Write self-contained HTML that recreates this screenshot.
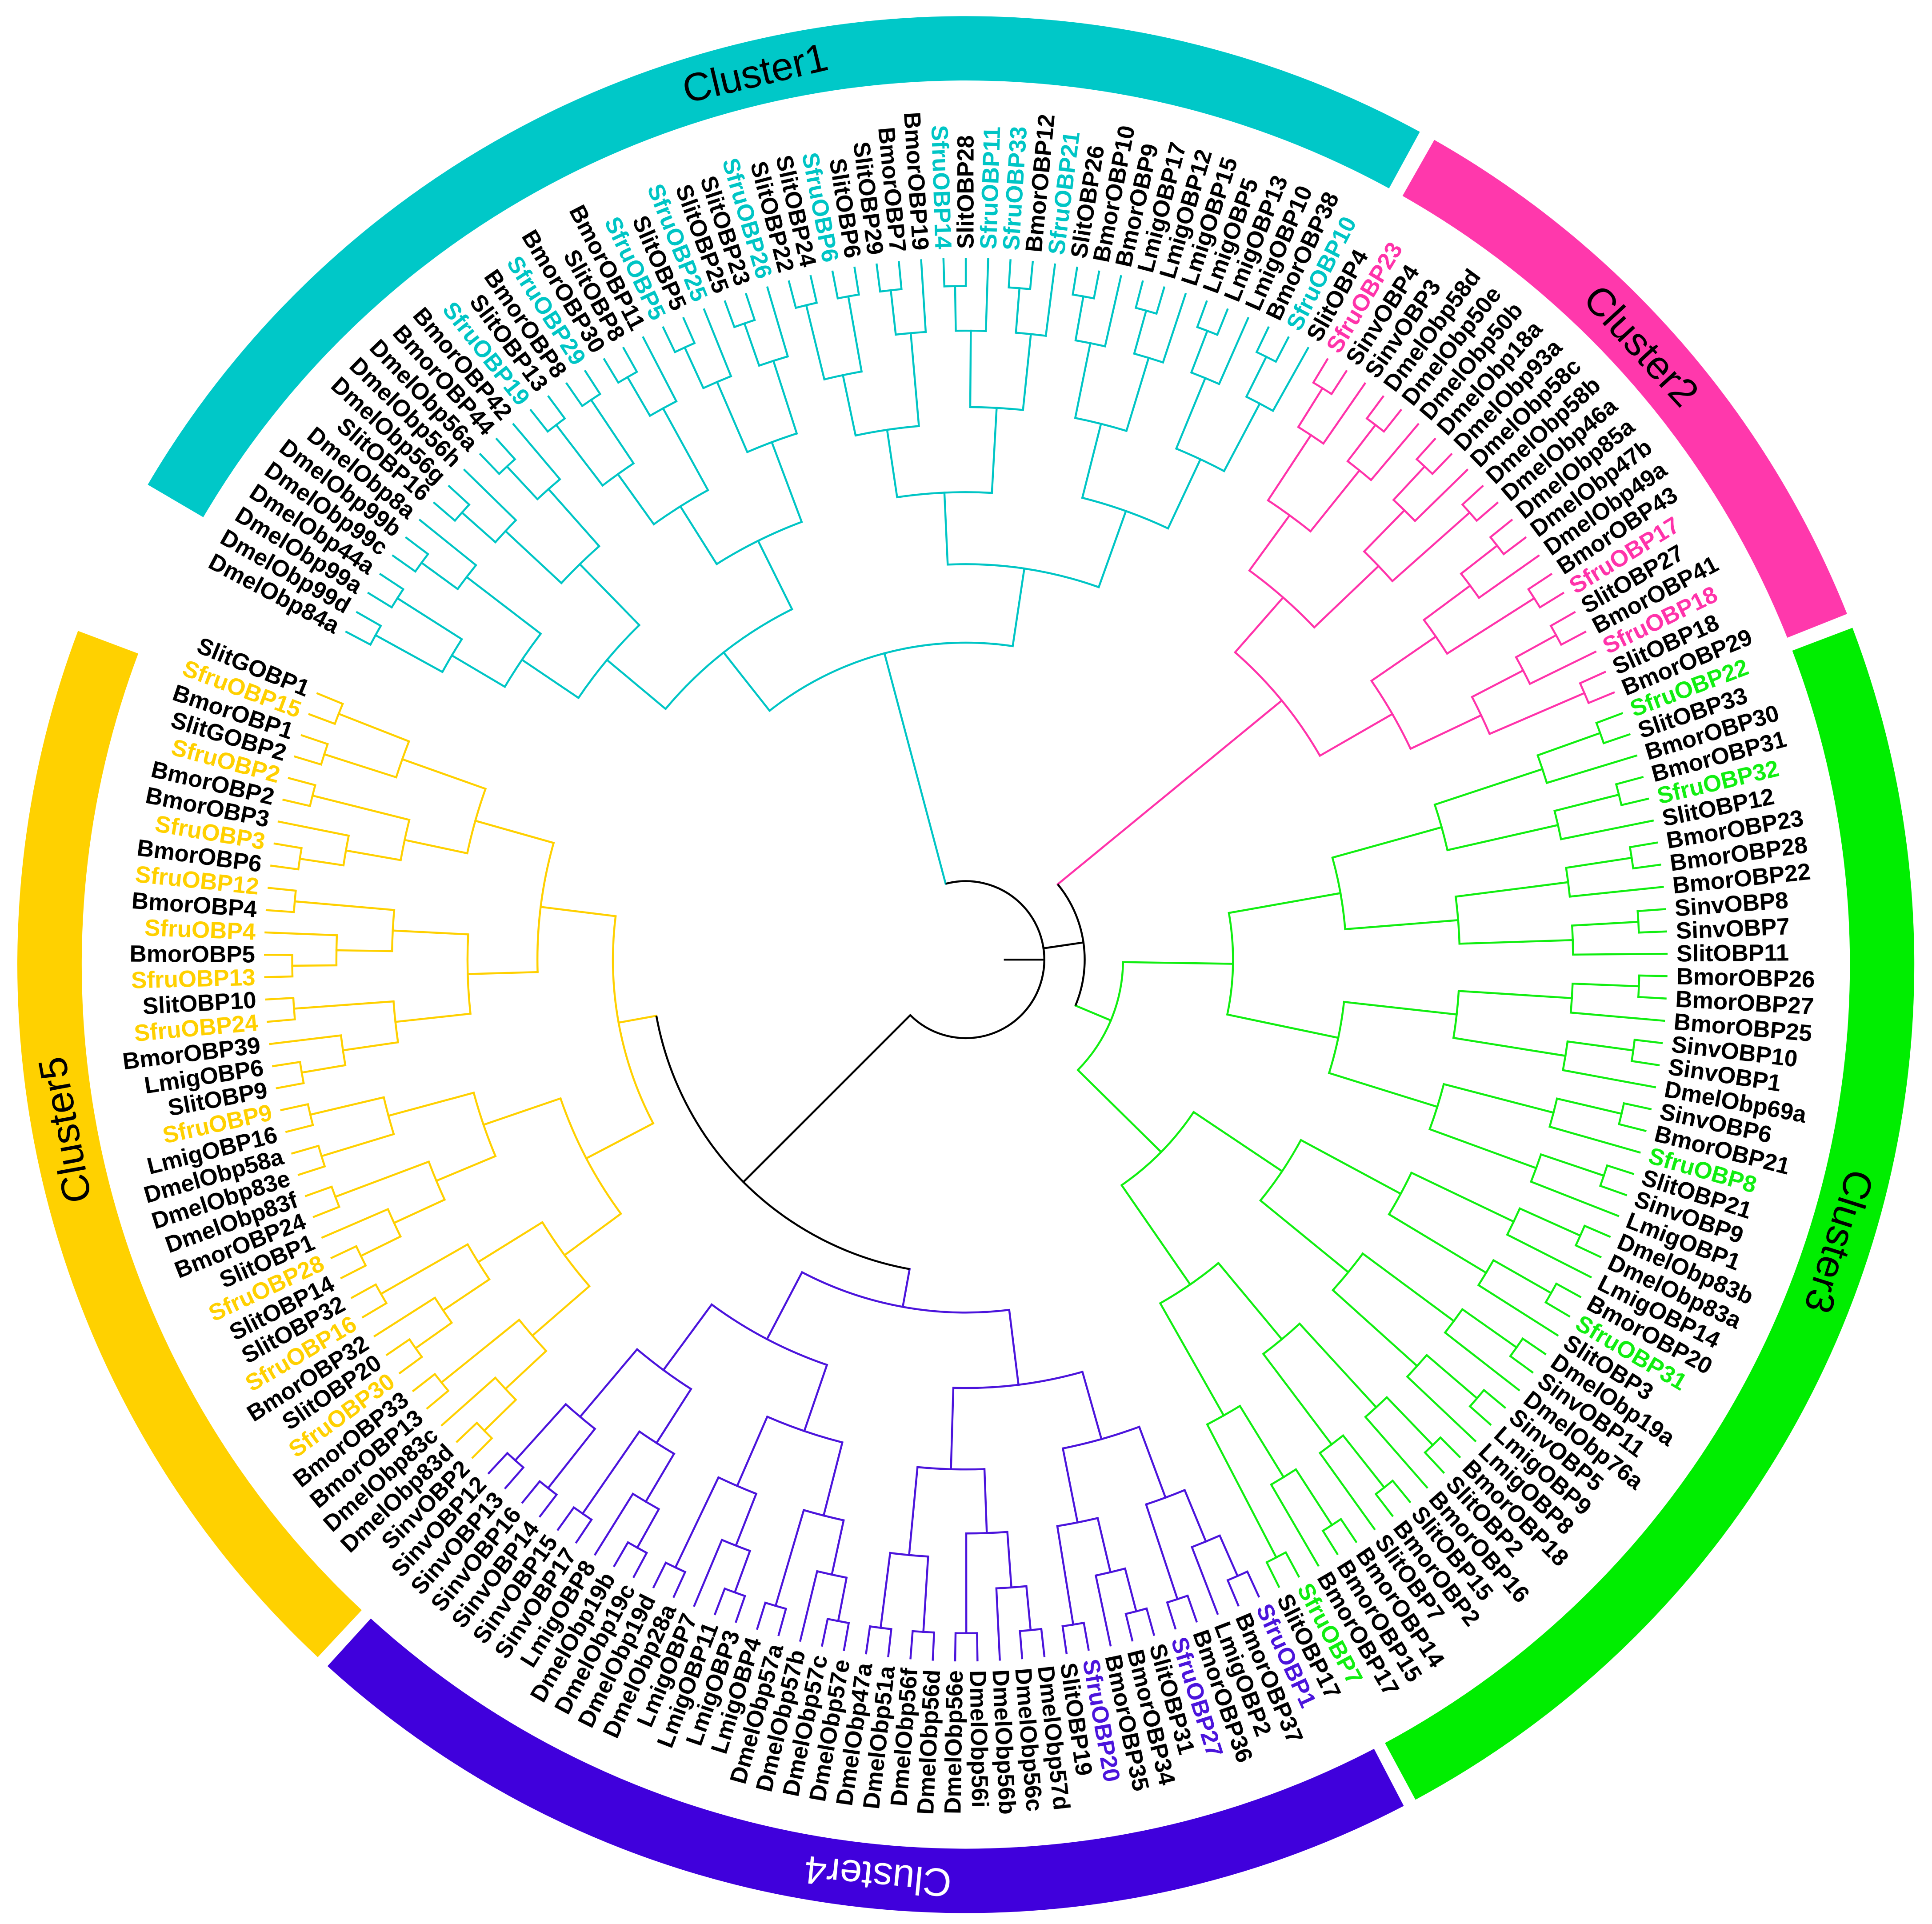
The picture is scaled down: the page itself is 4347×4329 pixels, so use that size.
<!DOCTYPE html>
<html><head><meta charset="utf-8">
<style>
html,body{margin:0;padding:0;background:#fff;}
svg{display:block;}
text{font-family:"Liberation Sans",Arial,sans-serif;}
</style></head>
<body>
<svg id="s" xmlns="http://www.w3.org/2000/svg" width="4347" height="4329" viewBox="0 0 1560.3 1553.8">
<rect x="0" y="0" width="1560.3" height="1553.8" fill="#fff"/>
<g id="ring"></g><g id="tree"></g><g id="labels"></g>
</svg>
<script>
const NS="http://www.w3.org/2000/svg";
const T=[780,775], R=[780,779];
function P(r,a,c){c=c||T;const t=a*Math.PI/180;return [c[0]+r*Math.cos(t),c[1]+r*Math.sin(t)];}
function el(tag,attrs,parent,txt){const e=document.createElementNS(NS,tag);for(const k in attrs)e.setAttribute(k,attrs[k]);if(txt!==undefined)e.textContent=txt;parent.appendChild(e);return e;}
const tree=document.getElementById('tree'),labs=document.getElementById('labels'),ring=document.getElementById('ring');
const SW=1.6;
function arcPath(r,a1,a2,c){if(a2<a1){const t=a1;a1=a2;a2=t;}const p1=P(r,a1,c),p2=P(r,a2,c);const large=(a2-a1)>180?1:0;return `M${p1[0].toFixed(2)},${p1[1].toFixed(2)} A${r},${r} 0 ${large} 1 ${p2[0].toFixed(2)},${p2[1].toFixed(2)}`;}
function arc(r,a1,a2,col){el('path',{d:arcPath(r,a1,a2),fill:'none',stroke:col,'stroke-width':SW},tree);}
function rad(r1,r2,a,col){const p1=P(r1,a),p2=P(r2,a);el('line',{x1:p1[0],y1:p1[1],x2:p2[0],y2:p2[1],stroke:col,'stroke-width':SW,'stroke-linecap':'square'},tree);}

const ringDefs=[
 {a1:210.4,a2:298.6,c:'#00C8C8',t:'Cluster1',ta:256.7,tc:'#000'},
 {a1:299.6,a2:338.3,c:'#FF38AC',t:'Cluster2',ta:317.5,tc:'#000'},
 {a1:339.2,a2:421.7,c:'#00EE00',t:'Cluster3',ta:377.6,tc:'#000'},
 {a1:422.5,a2:492.3,c:'#4000DC',t:'Cluster4',ta:455.5,tc:'#fff'},
 {a1:493.1,a2:560.6,c:'#FFD100',t:'Cluster5',ta:529.6,tc:'#000'}
];
ringDefs.forEach(d=>{
 el('path',{d:arcPath(740,d.a1,d.a2,R),fill:'none',stroke:d.c,'stroke-width':52},ring);
 const p=P(740,d.ta,R);
 el('text',{x:p[0],y:p[1],'font-size':32,'text-anchor':'middle','dominant-baseline':'central',fill:d.tc,transform:`rotate(${(d.ta+90)%360} ${p[0]} ${p[1]})`},ring,d.t);
});

const clusters=[
 {col:'#00C5C5',rootR:256,parentR:63.4,leaves:["DmelObp84a","DmelObp99d","DmelObp99a","DmelObp44a","DmelObp99c","DmelObp99b","DmelObp8a","SlitOBP16","DmelObp56g","DmelObp56h","DmelObp56a","BmorOBP44","BmorOBP42","SfruOBP19","SlitOBP13","BmorOBP8","SfruOBP29","BmorOBP30","SlitOBP8","BmorOBP11","SfruOBP5","SlitOBP5","SfruOBP25","SlitOBP25","SlitOBP23","SfruOBP26","SlitOBP22","SlitOBP24","SfruOBP6","SlitOBP6","SlitOBP29","BmorOBP7","BmorOBP19","SfruOBP14","SlitOBP28","SfruOBP11","SfruOBP33","BmorOBP12","SfruOBP21","SlitOBP26","BmorOBP10","BmorOBP9","LmigOBP17","LmigOBP12","LmigOBP15","LmigOBP5","LmigOBP13","LmigOBP10","BmorOBP38","SfruOBP10","SlitOBP4"]},
 {col:'#FF33AA',rootR:330,parentR:96,leaves:["SfruOBP23","SinvOBP4","SinvOBP3","DmelObp58d","DmelObp50e","DmelObp50b","DmelObp18a","DmelObp93a","DmelObp58c","DmelObp58b","DmelObp46a","DmelObp85a","DmelObp47b","DmelObp49a","BmorOBP43","SfruOBP17","SlitOBP27","BmorOBP41","SfruOBP18","SlitOBP18","BmorOBP29"]},
 {col:'#11EE11',rootR:127,parentR:96,leaves:["SfruOBP22","SlitOBP33","BmorOBP30","BmorOBP31","SfruOBP32","SlitOBP12","BmorOBP23","BmorOBP28","BmorOBP22","SinvOBP8","SinvOBP7","SlitOBP11","BmorOBP26","BmorOBP27","BmorOBP25","SinvOBP10","SinvOBP1","DmelObp69a","SinvOBP6","BmorOBP21","SfruOBP8","SlitOBP21","SinvOBP9","LmigOBP1","DmelObp83b","DmelObp83a","LmigOBP14","BmorOBP20","SfruOBP31","SlitOBP3","DmelObp19a","SinvOBP11","DmelObp76a","SinvOBP5","LmigOBP9","LmigOBP8","BmorOBP18","SlitOBP2","BmorOBP16","SlitOBP15","BmorOBP2","SlitOBP7","BmorOBP14","BmorOBP15","BmorOBP17","SfruOBP7","SlitOBP17"]},
 {col:'#4B14DC',rootR:285,parentR:254,leaves:["SfruOBP1","BmorOBP37","LmigOBP2","BmorOBP36","SfruOBP27","SlitOBP31","BmorOBP34","BmorOBP35","SfruOBP20","SlitOBP19","DmelObp57d","DmelObp56c","DmelObp56b","DmelObp56i","DmelObp56e","DmelObp56d","DmelObp56f","DmelObp51a","DmelObp47a","DmelObp57e","DmelObp57c","DmelObp57b","DmelObp57a","LmigOBP4","LmigOBP3","LmigOBP11","LmigOBP7","DmelObp28a","DmelObp19d","DmelObp19c","DmelObp19b","LmigOBP8","SinvOBP17","SinvOBP15","SinvOBP14","SinvOBP16","SinvOBP13","SinvOBP12"]},
 {col:'#FFD000',rootR:285,parentR:254,leaves:["SinvOBP2","DmelObp83d","DmelObp83c","BmorOBP13","BmorOBP33","SfruOBP30","SlitOBP20","BmorOBP32","SfruOBP16","SlitOBP32","SlitOBP14","SfruOBP28","SlitOBP1","BmorOBP24","DmelObp83f","DmelObp83e","DmelObp58a","LmigOBP16","SfruOBP9","SlitOBP9","LmigOBP6","BmorOBP39","SfruOBP24","SlitOBP10","SfruOBP13","BmorOBP5","SfruOBP4","BmorOBP4","SfruOBP12","BmorOBP6","SfruOBP3","BmorOBP3","BmorOBP2","SfruOBP2","SlitGOBP2","BmorOBP1","SfruOBP15","SlitGOBP1"]}
];
const STEP=1.827, LEAF=566, LAB=574;
let g=0;
const roots=[];
clusters.forEach(cl=>{
 const angs=cl.leaves.map(()=>{const a=-90+(g-34)*STEP;g++;return a;});
 const N=angs.length;
 function node(lo,hi){
  if(lo===hi)return {a:angs[lo],r:LEAF};
  const m=Math.floor((lo+hi)/2);
  const L=node(lo,m),Rr=node(m+1,hi);
  const n=hi-lo+1;
  let r;
  if(n===N) r=cl.rootR; else r=cl.rootR+(LEAF-22-cl.rootR)*(1-Math.log(n/2)/Math.log(N/2));
  arc(r,L.a,Rr.a,cl.col);
  rad(r,L.r,L.a,cl.col);rad(r,Rr.r,Rr.a,cl.col);
  return {a:(L.a+Rr.a)/2,r:r};
 }
 const root=node(0,N-1);
 rad(cl.parentR,cl.rootR,root.a,cl.col);
 roots.push(root.a);
 cl.leaves.forEach((nm,i)=>{
  let a=angs[i];let an=((a%360)+360)%360;
  const p=P(LAB,a);
  const left=an>90&&an<270;
  const rot=left?an+180:an;
  const fill=nm.startsWith('Sfru')?cl.col:'#000';
  el('text',{x:p[0].toFixed(2),y:p[1].toFixed(2),'font-size':19,'font-weight':'bold','text-anchor':left?'end':'start','dominant-baseline':'central',fill:fill,transform:`rotate(${rot.toFixed(2)} ${p[0].toFixed(2)} ${p[1].toFixed(2)})`},labs,nm);
 });
});
const K='#000';
const c1=roots[0], c2=roots[1], c3=roots[2], c4=roots[3], c5=roots[4];
const big=(c4+c5)/2;
const mid23=(c2+c3)/2;
arc(63.4,c1,big,K);
rad(31.5,63.4,0,K);
rad(63.4,96,mid23,K);
arc(96,c2,c3,K);
rad(63.4,254,big,K);
arc(254,c4,c5,K);
</script>
</body></html>
